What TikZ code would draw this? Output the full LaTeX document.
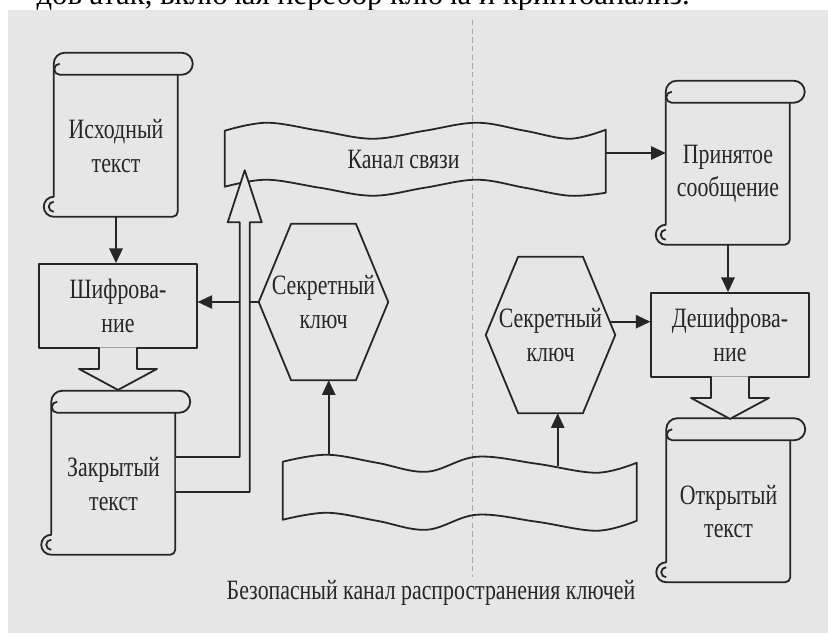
\documentclass[tikz,border=0pt]{standalone}
\usepackage{fontspec}
\setmainfont{Liberation Serif}
\newfontfamily\figfont[FakeStretch=0.78]{Liberation Serif}
\usetikzlibrary{arrows.meta,calc,positioning}
\definecolor{bg}{HTML}{E6E6E6}
\definecolor{ink}{HTML}{262626}

\begin{document}
\begin{tikzpicture}[x=0.75pt,y=0.75pt,
  ln/.style={draw=ink,line width=1.35pt,line join=round},
  arr/.style={ln,-{Triangle[length=11pt,width=10pt]}},
  lbl/.style={font=\figfont\fontsize{21}{25}\selectfont,text=ink,align=center,inner sep=0pt},
  scroll/.style={lbl,minimum width=93pt,minimum height=106.5pt},
  box/.style={lbl,ln,minimum width=118pt,minimum height=63pt},
  hexa/.style={lbl,minimum width=96.75pt,minimum height=117pt},
  tape/.style={lbl,minimum height=42pt}]

\useasboundingbox (0,0) rectangle (828,-633);
\clip (0,0) rectangle (828,-633);
\node[anchor=base east,font=\fontsize{23}{28}\selectfont,inner sep=0pt] (cut) at (690,-4.5) {дов атак, включая перебор ключа и криптоанализ.};
\fill[bg] (8,-10) rectangle (828,-633);
\draw[ink!40,line width=0.6pt,dash pattern=on 4pt off 2.5pt] (472,-20) -- (472,-577);

\node[scroll] (src) at (116,-146) {Исходный\\текст};
\node[scroll] (zak) at (113.5,-484) {Закрытый\\текст};
\node[scroll] (pr) at (728,-174) {Принятое\\сообщение};
\node[scroll] (otk) at (728.5,-511.5) {Открытый\\текст};
\node[box] (enc) at (118,-306) {Шифрова-\\ние};
\node[box] (dec) at (730,-335) {Дешифрова-\\ние};
\node[hexa] (hL) at (323.5,-302) {Секретный\\ключ};
\node[hexa] (hR) at (550.5,-335) {Секретный\\ключ};
\node[tape,minimum width=285.75pt] (ch) at (415.5,-159) {Канал связи\hspace*{18pt}};
\node[tape,minimum width=265.5pt,minimum height=43.5pt] (kd) at (460,-491) {};
\node[lbl] (cap) at (431,-593) {Безопасный канал распространения ключей};

\foreach \s in {src,zak,pr,otk}{
  \begin{scope}[shift={(\s.north west)}]
    \draw[ln] (11,22) -- (128,22) arc[start angle=90,end angle=-90,radius=11] -- (6,0) arc[start angle=270,end angle=90,radius=5.5];
    \draw[ln] (11,22) arc[start angle=90,end angle=180,radius=11] -- (0,-122) arc[start angle=90,end angle=270,radius=10] -- (119,-142) arc[start angle=-90,end angle=0,radius=5] -- (124,0);
    \draw[ln] (0,-127) arc[start angle=90,end angle=270,radius=5];
  \end{scope}}

\foreach \h in {hL,hR}
  \draw[ln] (\h.west) -- ($(\h.north west)!.25!(\h.north east)$) -- ($(\h.north west)!.75!(\h.north east)$) -- (\h.east)
    -- ($(\h.south west)!.75!(\h.south east)$) -- ($(\h.south west)!.25!(\h.south east)$) -- cycle;

\begin{scope}[shift={(ch.north west)}]
  \draw[ln] plot[smooth,tension=0.6] coordinates {(0,0) (42,8) (95,0) (148,-8) (200,0) (252,8) (300,0) (345,-8) (381,1)}
    -- plot[smooth,tension=0.6] coordinates {(381,-62) (345,-65) (300,-57) (252,-49) (200,-57) (148,-65) (95,-57) (42,-49) (0,-56)} -- cycle;
\end{scope}
\begin{scope}[shift={(kd.north west)}]
  \draw[ln] plot[smooth,tension=0.6] coordinates {(0,0) (44,7) (94,-1) (144,-10) (194,5) (254,-2) (314,-11) (354,-1)}
    -- plot[smooth,tension=0.6] coordinates {(354,-59) (314,-69) (254,-60) (194,-53) (144,-68) (94,-59) (44,-51) (0,-58)} -- cycle;
\end{scope}

\draw[arr] (src.south) -- (src.south |- enc.north);
\draw[arr] (hL.west) -- (hL.west -| enc.east);
\coordinate (c1) at ($(pr.west)+(0,21)$);
\draw[arr] (c1 -| ch.east) -- (c1);
\draw[arr] (pr.south) -- (pr.south |- dec.north);
\coordinate (c2) at ($(hR.east)!.17!($(hR.north west)!.75!(hR.north east)$)$);
\draw[arr] (c2) -- (c2 -| dec.west);
\coordinate (w1) at ($(kd.north west)+(46,7)$);
\coordinate (w2) at ($(kd.north west)+(275,-4)$);
\draw[arr] (w1) -- (w1 |- hL.south);
\draw[arr] (w2) -- (w2 |- hR.south);

\foreach \b in {enc,dec}
  \draw[ln,fill=bg] ($(\b.south)+(-19,1.5)$) -- ++(0,-21.5) -- ++(-20,0) -- ++(39,-21) -- ++(39,21) -- ++(-20,0) -- ++(0,21.5);
\coordinate (t) at ($(ch.south west)+(20,17)$);
\draw[ln,fill=bg] ($(zak.east)+(0,27)$) -| ($(t)+(-5,-52)$) -- ++(-12,0) -- (t) -- ++(17,-52) -- ++(-12,0) |- ($(zak.east)+(0,-8)$);
\end{tikzpicture}
\end{document}
